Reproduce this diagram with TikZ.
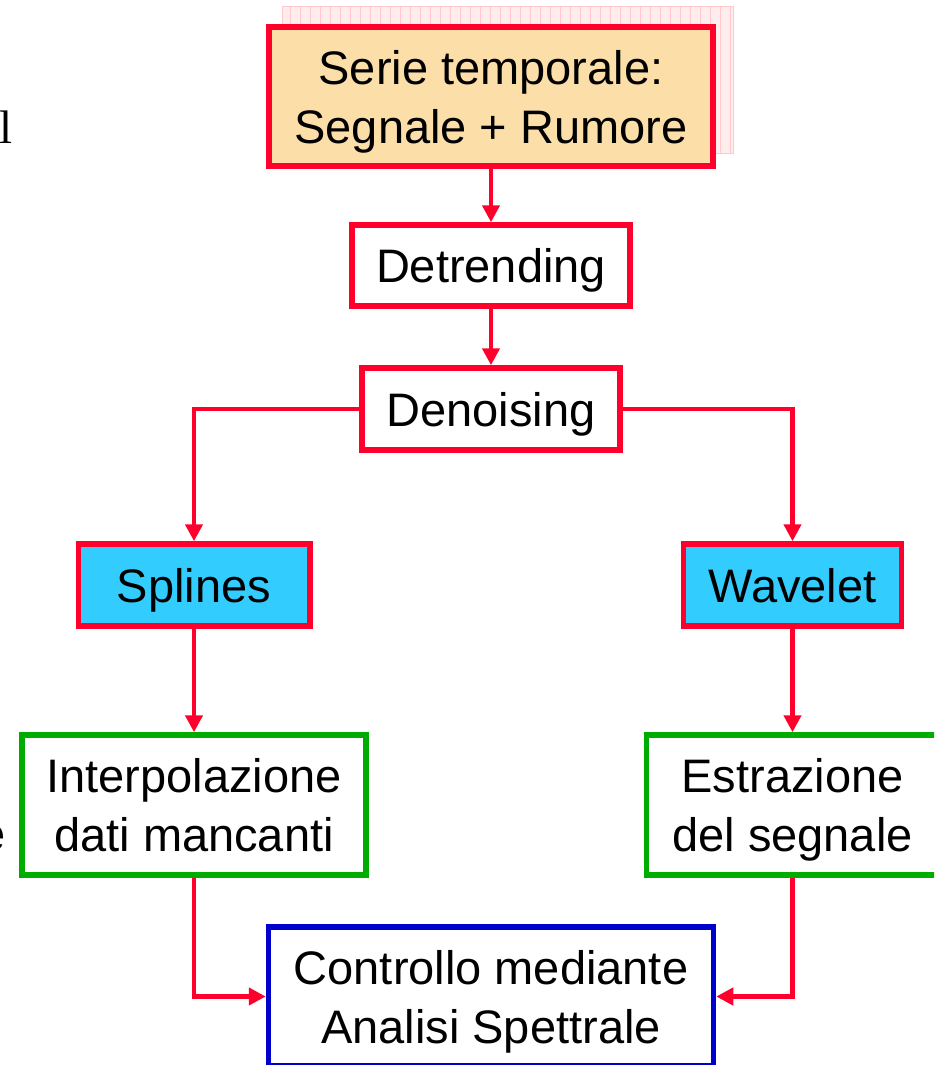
\documentclass[tikz,border=0pt]{standalone}
\usepackage{fontspec}
\setmainfont{Liberation Sans}
\newfontfamily\serifpart{Liberation Serif}
\usetikzlibrary{arrows.meta}
\definecolor{cred}{RGB}{255,0,45}
\definecolor{cpeach}{RGB}{252,223,168}
\definecolor{ccyan}{RGB}{51,204,255}
\definecolor{cgreen}{RGB}{0,172,0}
\definecolor{cblue}{RGB}{0,0,204}
\definecolor{shadowfill}{RGB}{255,236,236}
\definecolor{shadowgrid}{RGB}{255,200,205}
\tikzset{
  box/.style={draw, line width=5.5pt, inner sep=0pt, align=center, text depth=0pt,
    font=\fontsize{47}{59}\selectfont},
  redbox/.style={box, draw=cred, fill=white},
  peachbox/.style={box, draw=cred, fill=cpeach},
  cyanbox/.style={box, draw=cred, fill=ccyan},
  greenbox/.style={box, draw=cgreen, fill=white},
  bluebox/.style={box, draw=cblue, fill=white},
  arr/.style={draw=cred, line width=4.5pt, -{Triangle[width=17pt,length=17pt]}}
}
\begin{document}
\begin{tikzpicture}[x=1pt,y=-1pt]
\clip (0,0) rectangle (934,1065);
\fill[white] (0,0) rectangle (934,1065);
% grid shadow behind top box
\fill[shadowfill] (282,6) rectangle (733,153);
\draw[shadowgrid, line width=0.6pt, step=10] (282,6) grid (733,153);
\draw[shadowgrid, line width=0.8pt] (282,6) rectangle (733,153);
% clipped side texts
\node[anchor=base west, inner sep=0pt, font=\serifpart\fontsize{47}{56}\selectfont] (sideL) at (-1,143) {l};
\node[anchor=base east, inner sep=0pt, font=\fontsize{47}{56}\selectfont] (sideE) at (6,850) {e};
% nodes
\node[peachbox, minimum width=444, minimum height=139] (top) at (491,96.5) {Serie temporale:\\Segnale + Rumore};
\node[redbox, minimum width=278, minimum height=81] (det) at (491,265.5) {Detrending};
\node[redbox, minimum width=258, minimum height=82] (den) at (491,409) {Denoising};
\node[cyanbox, minimum width=231.5, minimum height=82] (spl) at (194,585) {Splines};
\node[cyanbox, minimum width=218, minimum height=82] (wav) at (792.5,585) {Wavelet};
\node[greenbox, minimum width=344, minimum height=140] (int) at (194,805) {Interpolazione\\dati mancanti};
\node[greenbox, minimum width=292, minimum height=140] (est) at (792.5,805) {Estrazione\\del segnale};
\node[bluebox, minimum width=445, minimum height=139] (ctl) at (491,996.5) {Controllo mediante\\Analisi Spettrale};
% connectors
\draw[arr] (top) -- (det);
\draw[arr] (det) -- (den);
\draw[arr] (den.west) -| (spl.north);
\draw[arr] (den.east) -| (wav.north);
\draw[arr] (spl) -- (int);
\draw[arr] (wav) -- (est);
\draw[arr] (int.south) |- (ctl.west);
\draw[arr] (est.south) |- (ctl.east);
\end{tikzpicture}
\end{document}
